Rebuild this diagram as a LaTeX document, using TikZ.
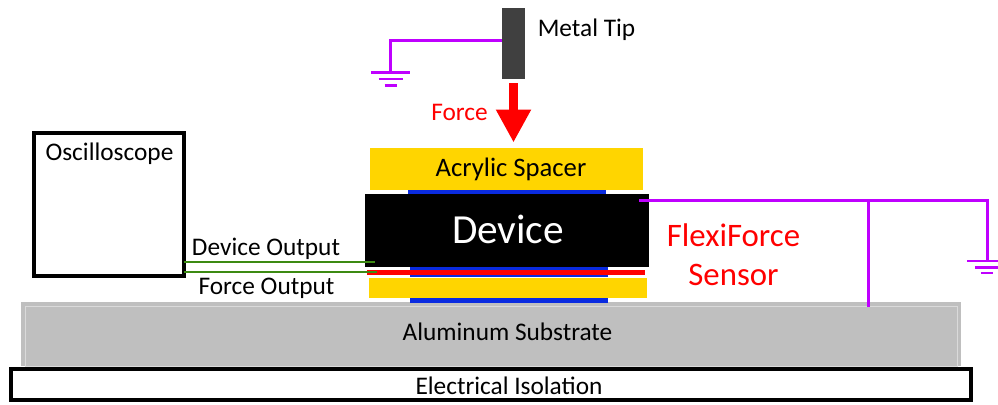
\documentclass[tikz,border=0pt]{standalone}
\usepackage{fontspec}
\setmainfont{Carlito}
\usetikzlibrary{arrows.meta}
\definecolor{wirepurple}{HTML}{BF00FF}
\definecolor{acrylic}{HTML}{FFD500}
\definecolor{contactblue}{HTML}{0A2BE0}
\definecolor{alu}{HTML}{BFBFBF}
\definecolor{alub}{HTML}{DADADA}
\definecolor{tipgrey}{HTML}{404040}
\definecolor{outgreen}{HTML}{3C8A12}
\newcommand{\pxu}{0.75pt}
\tikzset{
  x=0.75pt,y=-0.75pt,
  lay/.style={inner sep=0pt,outer sep=0pt,draw=none,text=black},
  size/.style 2 args={minimum width=#1*\pxu,minimum height=#2*\pxu},
  label22/.style={font=\fontsize{19pt}{22pt}\selectfont,inner sep=0pt},
  labelbig/.style={font=\fontsize{24.6pt}{29pt}\selectfont,inner sep=0pt,text=red},
  acrylicbox/.style={lay,fill=acrylic},
  contact/.style={lay,fill=contactblue},
  outlinebox/.style={lay,draw=black,line width=3.2*\pxu,fill=white},
  wire/.style={draw=wirepurple,line width=3*\pxu},
  groundbar/.style={draw=wirepurple,line width=2.6*\pxu},
  outwire/.style={draw=outgreen,line width=1.8*\pxu},
  forcearrow/.style={draw=red,line width=9*\pxu,-{Triangle[length=33*\pxu,width=33*\pxu,fill=red]}},
}
\begin{document}
\begin{tikzpicture}
\useasboundingbox (0,0) rectangle (998,404);
% layers
\node[lay,fill=alu,size={940}{64}] (sub) at (491,334) {};
\node[lay,draw=alub,line width=1*\pxu,size={932}{60}] (subIn) at (491,336) {};
\node[outlinebox,size={960}{31}] (iso) at (491,384.5) {};
\node[contact,size={198}{5}] (blueT) at (507,191.5) {};
\node[contact,size={198}{10}] (blueM) at (509,272) {};
\node[contact,size={198}{5}] (blueB) at (509,300) {};
\node[acrylicbox,size={273}{42}] (top) at (506.5,168.5) {};
\node[acrylicbox,size={278}{20}] (bot) at (508,288) {};
\node[lay,fill=black,size={284}{73}] (dev) at (507,230.5) {};
\node[lay,fill=red,size={278}{5}] (strip) at (506,272.5) {};
\node[outlinebox,size={150}{143}] (osc) at (109,204.5) {};
\node[lay,fill=tipgrey,size={23}{71}] (tip) at (513.5,43.5) {};
% texts
\node[label22] (tOsc) at (109.5,153.5) {Oscilloscope};
\node[label22] (tTip) at (586.5,29.5) {Metal Tip};
\node[label22,text=red] (tForce) at (459.5,112.5) {Force};
\node[label22,font=\fontsize{20pt}{24pt}\selectfont] (tAcr) at (511,169.5) {Acrylic Spacer};
\node[text=white,font=\fontsize{31pt}{36pt}\selectfont,inner sep=0pt] (tDev) at (508,229.5) {Device};
\node[labelbig] (tFlex) at (733.5,235) {FlexiForce};
\node[labelbig] (tSens) at (733.5,275) {Sensor};
\node[label22] (tDO) at (266,249) {Device Output};
\node[label22] (tFO) at (266.5,288.5) {Force Output};
\node[label22] (tAl) at (507.5,332) {Aluminum Substrate};
\node[label22] (tIso) at (509,386) {Electrical Isolation};
% force arrow
\draw[forcearrow,shorten <=4*\pxu,shorten >=5*\pxu] (tip.south) -- (tip.south |- top.north);
% green outputs
\coordinate (gA) at (375,262);
\coordinate (gB) at (377,272);
\draw[outwire] (osc.east |- gA) -- (gA);
\draw[outwire] (osc.east |- gB) -- (gB);
% left ground
\coordinate (tipC) at (502,40);
\coordinate (gndL) at (390.5,72.5);
\draw[wire] (tipC) -| (gndL);
\draw[groundbar] ([xshift=-19.5*\pxu]gndL) -- ([xshift=19.5*\pxu]gndL);
\draw[groundbar] ([xshift=-12*\pxu,yshift=-6.5*\pxu]gndL) -- ([xshift=12*\pxu,yshift=-6.5*\pxu]gndL);
\draw[groundbar] ([xshift=-6*\pxu,yshift=-13*\pxu]gndL) -- ([xshift=6*\pxu,yshift=-13*\pxu]gndL);
% right ground
\coordinate (devC) at (639,200.5);
\coordinate (gndR) at (987,261);
\coordinate (branch) at (868,200.5);
\coordinate (subC) at (868,307);
\draw[wire] (devC) -| (gndR);
\draw[wire] (branch) -- (subC);
\coordinate (gR1) at (967,261);
\coordinate (gR1e) at (998,261);
\coordinate (gR2) at (975,267.5);
\coordinate (gR2e) at (998,267.5);
\coordinate (gR3) at (981,273);
\coordinate (gR3e) at (993,273);
\draw[groundbar] (gR1) -- (gR1e);
\draw[groundbar] (gR2) -- (gR2e);
\draw[groundbar] (gR3) -- (gR3e);
\end{tikzpicture}
\end{document}
